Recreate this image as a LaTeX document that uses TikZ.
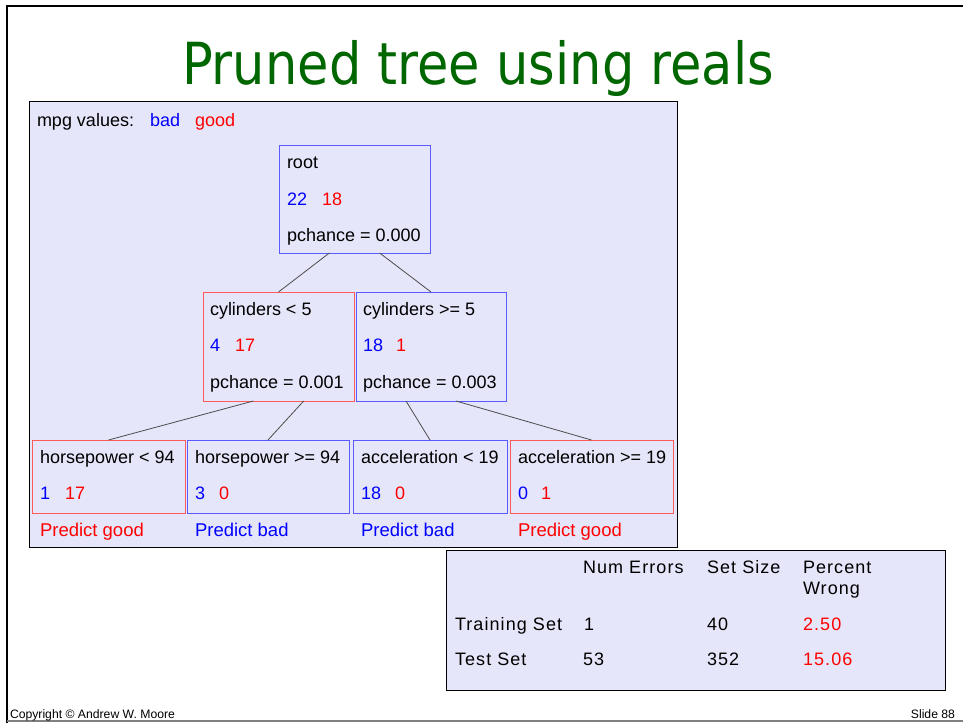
\documentclass[tikz,border=0pt]{standalone}
\usepackage{fontspec}
\setmainfont{Liberation Sans}
\newfontfamily\titlefont{DejaVu Sans}
\newfontfamily\tablefont[LetterSpace=6]{Liberation Sans}
\usepackage{xcolor}
\usepackage{tikz}
\usetikzlibrary{calc}

\definecolor{lavender}{RGB}{230,230,250}
\definecolor{titlegreen}{RGB}{0,102,0}
\definecolor{badblue}{RGB}{0,0,255}
\definecolor{goodred}{RGB}{255,0,0}
\definecolor{boxblue}{RGB}{90,90,255}
\definecolor{boxred}{RGB}{255,90,90}

\tikzset{
  txt/.style={anchor=base west, font=\fontsize{18}{20}\selectfont},
  tabtxt/.style={anchor=base west, font=\tablefont\fontsize{18}{20}\selectfont},
  panel/.style={draw=black, fill=lavender, line width=1pt, anchor=north west},
  badbox/.style={draw=boxblue, line width=1pt, anchor=north west},
  goodbox/.style={draw=boxred, line width=1pt, anchor=north west},
  edge/.style={draw=black!70, line width=0.8pt}
}

\begin{document}
\begin{tikzpicture}[x=1pt, y=-1pt, every node/.style={inner sep=0pt, outer sep=0pt}]
    \useasboundingbox (0,0) rectangle (963,723);
    % slide frame
    \draw[line width=2pt] (963,6) -- (7,6) -- (7,723);
    \draw[gray, line width=1.5pt] (7,721) -- (963,721);
    \node[anchor=base, text=titlegreen, font=\titlefont\fontsize{58}{60}\selectfont] (title) at (478,84) {\scalebox{0.88}[1]{Pruned tree using reals}};

    % tree panel
    \node[panel, minimum width=648, minimum height=446] (treepanel) at (29,101) {};
    \node[txt] (mpg) at (37,126) {mpg values:};
    \node[txt, text=badblue] (mpgbad) at (150,126) {bad};
    \node[txt, text=goodred] (mpggood) at (195,126) {good};

    % root
    \node[badbox, minimum width=151, minimum height=108] (root) at (279,145) {};
    \node[txt] (roottxt) at (287,168) {root};
    \node[txt, text=badblue] (rootbad) at (287,205) {22};
    \node[txt, text=goodred] (rootgood) at (322,205) {18};
    \node[txt] (rootp) at (287,241) {pchance = 0.000};

    % second level
    \node[goodbox, minimum width=151, minimum height=109] (cyllo) at (203,292) {};
    \node[txt] (cyllotxt) at (210,315) {cylinders < 5};
    \node[txt, text=badblue] (cyllobad) at (210,351.5) {4};
    \node[txt, text=goodred] (cyllogood) at (235,351.5) {17};
    \node[txt] (cyllop) at (210,388) {pchance = 0.001};

    \node[badbox, minimum width=150, minimum height=109] (cylhi) at (356,292) {};
    \node[txt] (cylhitxt) at (363,315) {cylinders >= 5};
    \node[txt, text=badblue] (cylhibad) at (363,351.5) {18};
    \node[txt, text=goodred] (cylhigood) at (396,351.5) {1};
    \node[txt] (cylhip) at (363,388) {pchance = 0.003};

    % leaves
    \node[goodbox, minimum width=153, minimum height=73] (hplo) at (32,440) {};
    \node[txt] (hplotxt) at (40,463) {horsepower < 94};
    \node[txt, text=badblue] (hplobad) at (40,499.5) {1};
    \node[txt, text=goodred] (hplogood) at (65,499.5) {17};
    \node[txt, text=goodred, font=\fontsize{18.5}{20}\selectfont] (hplopred) at (40,536) {Predict good};

    \node[badbox, minimum width=162, minimum height=73] (hphi) at (187,440) {};
    \node[txt] (hphitxt) at (195,463) {horsepower >= 94};
    \node[txt, text=badblue] (hphibad) at (195,499.5) {3};
    \node[txt, text=goodred] (hphigood) at (219,499.5) {0};
    \node[txt, text=badblue, font=\fontsize{18.5}{20}\selectfont] (hphipred) at (195,536) {Predict bad};

    \node[badbox, minimum width=154, minimum height=73] (acclo) at (353,440) {};
    \node[txt] (acclotxt) at (361,463) {acceleration < 19};
    \node[txt, text=badblue] (acclobad) at (361,499.5) {18};
    \node[txt, text=goodred] (acclogood) at (395,499.5) {0};
    \node[txt, text=badblue, font=\fontsize{18.5}{20}\selectfont] (acclopred) at (361,536) {Predict bad};

    \node[goodbox, minimum width=163, minimum height=73] (acchi) at (510,440) {};
    \node[txt] (acchitxt) at (518,463) {acceleration >= 19};
    \node[txt, text=badblue] (acchibad) at (518,499.5) {0};
    \node[txt, text=goodred] (acchigood) at (541,499.5) {1};
    \node[txt, text=goodred, font=\fontsize{18.5}{20}\selectfont] (acchipred) at (518,536) {Predict good};

    % branches
    \draw[edge] ($(root.south west)!1/3!(root.south east)$) -- (cyllo.north);
    \draw[edge] ($(root.south west)!2/3!(root.south east)$) -- (cylhi.north);
    \draw[edge] ($(cyllo.south west)!1/3!(cyllo.south east)$) -- (hplo.north);
    \draw[edge] ($(cyllo.south west)!2/3!(cyllo.south east)$) -- (hphi.north);
    \draw[edge] ($(cylhi.south west)!1/3!(cylhi.south east)$) -- (acclo.north);
    \draw[edge] ($(cylhi.south west)!2/3!(cylhi.south east)$) -- (acchi.north);

    % error table
    \node[panel, minimum width=499, minimum height=140] (errtable) at (446,550) {};
    \node[tabtxt] (numerr) at (583,573) {Num Errors};
    \node[tabtxt] (setsize) at (707,573) {Set Size};
    \node[tabtxt] (pct) at (803,573) {Percent};
    \node[tabtxt] (wrong) at (803,594) {Wrong};
    \node[tabtxt] (train) at (455,630) {Training Set};
    \node[tabtxt] (trainerr) at (584,630) {1};
    \node[tabtxt] (trainsize) at (707,630) {40};
    \node[tabtxt, text=goodred] (trainpct) at (803,630) {2.50};
    \node[tabtxt] (test) at (455,665) {Test Set};
    \node[tabtxt] (testerr) at (583,665) {53};
    \node[tabtxt] (testsize) at (707,665) {352};
    \node[tabtxt, text=goodred] (testpct) at (803,665) {15.06};

    % footer
    \node[anchor=base west, font=\fontsize{12.2}{13}\selectfont] (copy) at (10,718) {Copyright \textcopyright{} Andrew W. Moore};
    \node[anchor=base east, font=\fontsize{12.2}{13}\selectfont] (slide) at (955,718) {Slide 88};
\end{tikzpicture}
\end{document}
